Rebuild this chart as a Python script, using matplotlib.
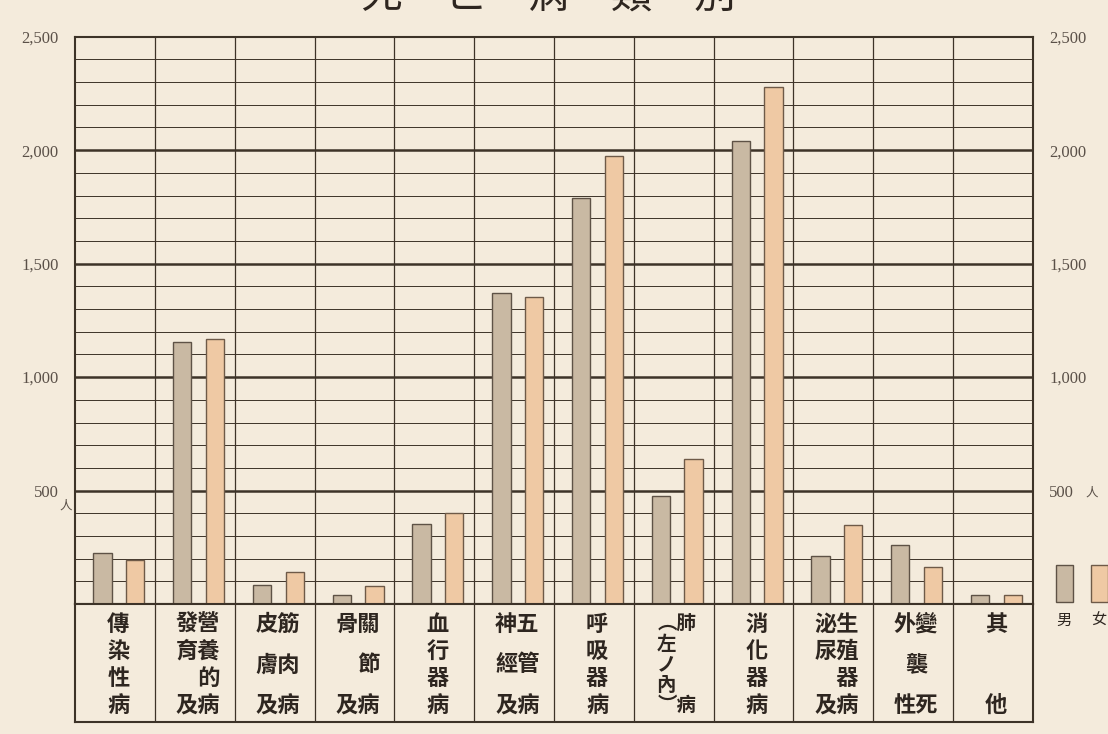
import numpy as np
import matplotlib.pyplot as plt
from matplotlib.patches import Rectangle

plt.rcParams['font.family'] = ['Noto Sans CJK TC', 'DejaVu Sans']

# category labels, drawn as rows of characters (vertical writing)
label_rows = [
    ["傳", "染", "性", "病"],
    ["發營", "育養", "　的", "及病"],
    ["皮筋", "膚肉", "及病"],
    ["骨關", "　節", "及病"],
    ["血", "行", "器", "病"],
    ["神五", "經管", "及病"],
    ["呼", "吸", "器", "病"],
    ["︵肺", "左　", "ノ　", "內　", "︶病"],
    ["消", "化", "器", "病"],
    ["泌生", "尿殖", "　器", "及病"],
    ["外變", "襲", "性死"],
    ["其", "他"],
]
male = [225, 1155, 85, 40, 355, 1370, 1790, 475, 2040, 210, 260, 40]
female = [195, 1170, 140, 80, 400, 1355, 1975, 640, 2280, 350, 165, 40]
yticks = [500, 1000, 1500, 2000, 2500]
yticklabels = ["500", "1,000", "1,500", "2,000", "2,500"]

paper = "#f4ebdc"
ink = "#3d3328"
c_male = "#c9b9a3"
c_female = "#efc9a4"

fig = plt.figure(figsize=(11.08, 7.34), dpi=100, facecolor=paper)
L, R = 0.068, 0.932
ax = fig.add_axes([L, 0.177, R - L, 0.773])
ax.set_facecolor(paper)

x = np.arange(len(male))
ax.bar(x - 0.16, male, width=0.23, color=c_male, edgecolor="#5e5246", linewidth=1.0, zorder=3)
ax.bar(x + 0.25, female, width=0.23, color=c_female, edgecolor="#6e5a48", linewidth=1.0, zorder=3)

# ruled paper
for v in range(100, 2500, 100):
    thick = v % 500 == 0
    ax.axhline(v, color=ink, lw=1.8 if thick else 0.7, zorder=2 if thick else 1)
for b in np.arange(0.5, len(male) - 0.5, 1):
    ax.axvline(b, color=ink, lw=0.9, zorder=1)

ax.set_xlim(-0.5, len(male) - 0.5)
ax.set_ylim(0, 2500)
ax.set_xticks([])
for s in ax.spines.values():
    s.set_color(ink)
    s.set_linewidth(1.5)

ax.set_yticks(yticks)
ax.set_yticklabels(yticklabels)
ax.tick_params(axis="y", length=0, pad=12, labelsize=12, labelcolor="#5a5048",
               labelright=True, labelleft=True)
for lab in ax.yaxis.get_majorticklabels():
    lab.set_fontfamily(["Liberation Serif", "DejaVu Serif"])
ax.text(-0.004, 430, "人", transform=ax.get_yaxis_transform(), ha="right", va="center",
        fontsize=9, color="#5a5048")
ax.text(1.055, 490, "人", transform=ax.get_yaxis_transform(), ha="left", va="center",
        fontsize=9, color="#5a5048")

# label table under the chart
tab = fig.add_axes([L, 0.016, R - L, 0.161])
tab.set_facecolor(paper)
tab.set_xlim(-0.5, len(male) - 0.5)
tab.set_ylim(0, 1)
tab.set_xticks([])
tab.set_yticks([])
for s in tab.spines.values():
    s.set_color(ink)
    s.set_linewidth(1.5)
for b in np.arange(0.5, len(male) - 0.5, 1):
    tab.axvline(b, color=ink, lw=0.9)
for i, rows in enumerate(label_rows):
    n = len(rows)
    ys = np.linspace(0.83, 0.14, n)
    fs = 16 if n < 5 else 14
    for r, yy in zip(rows, ys):
        tab.text(i + 0.04, yy, r, ha="center", va="center", fontsize=fs,
                 color="#2e2620", fontweight="bold")

# legend swatches
fig.patches.append(Rectangle((0.953, 0.180), 0.015, 0.050, transform=fig.transFigure,
                             facecolor=c_male, edgecolor="#5e5246", lw=1))
fig.patches.append(Rectangle((0.985, 0.180), 0.015, 0.050, transform=fig.transFigure,
                             facecolor=c_female, edgecolor="#6e5a48", lw=1))
fig.text(0.960, 0.155, "男", ha="center", va="center", fontsize=11, color="#2e2620")
fig.text(0.992, 0.155, "女", ha="center", va="center", fontsize=11, color="#2e2620")

# title, cut off at the top edge as in the scan
fig.text(0.495, 1.006, "死　亡　病　類　別", ha="center", va="center", fontsize=30,
         color="#2e2620")

fig.savefig("out.png", dpi=100, facecolor=paper)
